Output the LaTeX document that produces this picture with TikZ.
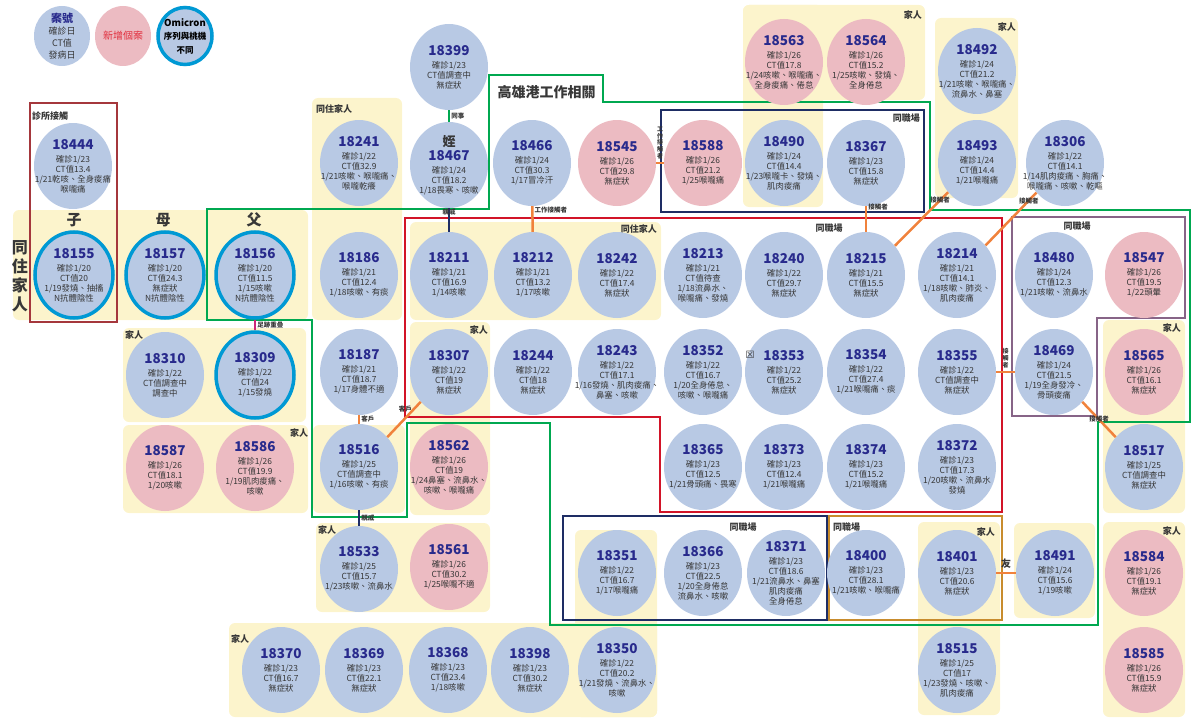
\documentclass[tikz,border=0pt]{standalone}
\usepackage{fontspec}
\setmainfont{Noto Sans CJK TC}
\newfontfamily\symfont{DejaVu Sans}
\usetikzlibrary{shapes.geometric}
\definecolor{caseblue}{RGB}{184,201,228}
\definecolor{casepink}{RGB}{236,187,194}
\definecolor{idblue}{RGB}{40,42,140}
\definecolor{txtgray}{RGB}{55,55,55}
\definecolor{omicyan}{RGB}{0,153,212}
\definecolor{bandyellow}{RGB}{252,244,204}
\definecolor{grpgreen}{RGB}{0,168,80}
\definecolor{grpred}{RGB}{210,20,40}
\definecolor{grpbrown}{RGB}{165,55,60}
\definecolor{grpnavy}{RGB}{30,45,100}
\definecolor{grpgold}{RGB}{200,140,45}
\definecolor{grppurple}{RGB}{135,100,135}
\definecolor{lnkorange}{RGB}{240,130,60}
\definecolor{lnkpink}{RGB}{205,40,120}
\definecolor{newred}{RGB}{225,45,60}
\newcommand{\cid}[1]{{\fontsize{13.5}{14}\selectfont\bfseries\color{idblue}#1}\\[3pt]}

\begin{document}
\begin{tikzpicture}[x=1pt, y=-1pt,
  case/.style={ellipse, fill=caseblue, minimum width=78pt, minimum height=86pt, inner xsep=-24pt, inner ysep=-16pt, align=center, text=txtgray, font=\fontsize{8.4}{10}\selectfont},
  newcase/.style={case, fill=casepink},
  omicase/.style={case, draw=omicyan, line width=3.5pt},
  band/.style={fill=bandyellow, rounded corners=6pt},
  grp/.style={font=\fontsize{9}{10}\selectfont\bfseries, text=txtgray, inner sep=1pt},
  lnk/.style={line width=2.5pt, lnkorange},
  lnklbl/.style={font=\fontsize{6.5}{7}\selectfont\bfseries, text=txtgray, inner sep=1pt},
  vlbl/.style={lnklbl, align=center, font=\fontsize{6}{6.6}\selectfont\bfseries}]
  \useasboundingbox (0,0) rectangle (1192,725);

  % yellow bands
  \fill[band] (13,210) rectangle (308,320);
  \fill[band] (312,98) rectangle (402,320);
  \fill[band] (410,222) rectangle (661,320);
  \fill[band] (123,328) rectangle (306,422);
  \fill[band] (123,425) rectangle (308,513);
  \fill[band] (313,425) rectangle (405,513);
  \fill[band] (410,322) rectangle (490,515);
  \fill[band] (316,523) rectangle (490,612);
  \fill[band] (229,623) rectangle (657,717);
  \fill[band] (575,530) rectangle (657,717);
  \fill[band] (743,5) rectangle (925,100);
  \fill[band] (743,5) rectangle (823,207);
  \fill[band] (935,18) rectangle (1018,198);
  \fill[band] (1103,320) rectangle (1185,513);
  \fill[band] (918,522) rectangle (1000,715);
  \fill[band] (1014,523) rectangle (1095,618);
  \fill[band] (1103,522) rectangle (1185,717);

  % group frames
  \draw[line width=2.5pt, grpgreen] (207,209) -- (489,209) -- (489,75) -- (603,75) -- (603,102) -- (930,102) -- (930,210) -- (1190,210) -- (1190,422) -- (1098,422) -- (1098,625) -- (550,625) -- (550,423) -- (407,423) -- (407,517) -- (312,517) -- (312,320) -- (207,320) -- cycle;
  \draw[line width=2.5pt, grpred] (405,218) -- (1002,218) -- (1002,512) -- (660,512) -- (660,417) -- (405,417) -- cycle;
  \draw[line width=2.2pt, grpbrown] (30,103) rectangle (117,322);
  \draw[line width=2.2pt, grpnavy] (661,110) rectangle (924,212);
  \draw[line width=2.2pt, grpnavy] (563,516) rectangle (827,620);
  \draw[line width=2.2pt, grpgold] (829,516) rectangle (1002,620);
  \draw[line width=1.5pt, grppurple] (1012,217) -- (1185,217) -- (1185,318) -- (1097,318) -- (1097,416) -- (1012,416) -- cycle;

  % group labels
  \node[grp, anchor=west] (lblclinic) at (31,116) {診所接觸};
  \node[grp, anchor=west] (lblhome1) at (315,109) {同住家人};
  \node[grp, anchor=east] (lblhome2) at (658,229) {同住家人};
  \node[grp, anchor=west] (lblfam1) at (124,335) {家人};
  \node[grp] (lblfam2) at (299,433) {家人};
  \node[grp, anchor=east] (lblfam3) at (489,330) {家人};
  \node[grp, anchor=west] (lblfam4) at (317,530) {家人};
  \node[grp, anchor=west] (lblfam5) at (230,639) {家人};
  \node[grp, anchor=east] (lblfam6) at (923,15) {家人};
  \node[grp, anchor=east] (lblfam7) at (1017,27) {家人};
  \node[grp, anchor=east] (lblfam8) at (1182,328) {家人};
  \node[grp, anchor=east] (lblfam9) at (996,532) {家人};
  \node[grp, anchor=east] (lblfam10) at (1182,531) {家人};
  \node[grp] (lblwork1) at (829,228) {同職場};
  \node[grp] (lblwork2) at (1077,226) {同職場};
  \node[grp, anchor=east] (lblwork3) at (921,118) {同職場};
  \node[grp] (lblwork4) at (743,527) {同職場};
  \node[grp, anchor=west] (lblwork5) at (832,527) {同職場};
  \node[anchor=west, font=\fontsize{14}{16}\selectfont\bfseries, text=txtgray] (lblport) at (494,92) {高雄港工作相關};
  \node[align=center, font=\fontsize{16}{19}\selectfont\bfseries, text=txtgray] (lbllive) at (20,276) {同\\住\\家\\人};
  \node[font=\fontsize{15}{16}\selectfont\bfseries, text=txtgray] (lblson) at (74,220) {子};
  \node[font=\fontsize{15}{16}\selectfont\bfseries, text=txtgray] (lblmom) at (163,220) {母};
  \node[font=\fontsize{15}{16}\selectfont\bfseries, text=txtgray] (lbldad) at (254,220) {父};

  % legend
  \node[case, minimum width=56pt, minimum height=60pt, inner xsep=-18pt, inner ysep=-18pt, font=\fontsize{9}{12}\selectfont] (legcase) at (62,36) {{\fontsize{11}{12}\selectfont\bfseries\color{idblue}案號}\\確診日\\CT值\\發病日};
  \node[newcase, minimum width=56pt, minimum height=60pt, inner xsep=-18pt, inner ysep=-18pt, font=\fontsize{10}{12}\selectfont, text=newred] (legnew) at (123,36) {新增個案};
  \node[omicase, minimum width=54pt, minimum height=57pt, inner xsep=-18pt, inner ysep=-18pt, font=\fontsize{8.5}{13.5}\selectfont\bfseries, text=black] (legomi) at (185,36) {{\fontsize{9.5}{13.5}\selectfont Omicron}\\序列與桃機\\不同};

  % cases
  \node[case] (n18444) at (73,166) {\cid{18444}確診1/23\\CT值13.4\\1/21乾咳、全身痠痛\\喉嚨痛};
  \node[omicase] (n18155) at (74,275) {\cid{18155}確診1/20\\CT值20\\1/19發燒、抽搐\\N抗體陰性};
  \node[omicase] (n18157) at (165,275) {\cid{18157}確診1/20\\CT值24.3\\無症狀\\N抗體陰性};
  \node[omicase] (n18156) at (255,275) {\cid{18156}確診1/20\\CT值11.5\\1/15咳嗽\\N抗體陰性};
  \node[case] (n18310) at (165,375) {\cid{18310}確診1/22\\CT值調查中\\調查中};
  \node[omicase] (n18309) at (255,375) {\cid{18309}確診1/22\\CT值24\\1/15發燒};
  \node[newcase] (n18587) at (165,468) {\cid{18587}確診1/26\\CT值18.1\\1/20咳嗽};
  \node[newcase] (n18586) at (255,468) {\cid{18586}確診1/26\\CT值19.9\\1/19肌肉痠痛、\\咳嗽};

  \node[case] (n18399) at (449,67) {\cid{18399}確診1/23\\CT值調查中\\無症狀};
  \node[case] (n18241) at (359,163) {\cid{18241}確診1/22\\CT值32.9\\1/21咳嗽、喉嚨痛、\\喉嚨乾癢};
  \node[case] (n18467) at (449,165) {{\fontsize{13}{13}\selectfont\bfseries 姪}\\[2pt]\cid{18467}確診1/24\\CT值18.2\\1/18畏寒、咳嗽};
  \node[case] (n18466) at (532,163) {\cid{18466}確診1/24\\CT值30.3\\1/17冒冷汗};
  \node[newcase] (n18545) at (617,163) {\cid{18545}確診1/26\\CT值29.8\\無症狀};
  \node[newcase] (n18588) at (703,163) {\cid{18588}確診1/26\\CT值21.2\\1/25喉嚨痛};
  \node[case] (n18490) at (784,163) {\cid{18490}確診1/24\\CT值14.4\\1/23喉嚨卡、發燒、\\肌肉痠痛};
  \node[case] (n18367) at (866,163) {\cid{18367}確診1/23\\CT值15.8\\無症狀};
  \node[newcase] (n18563) at (784,62) {\cid{18563}確診1/26\\CT值17.8\\1/24咳嗽、喉嚨痛、\\全身痠痛、倦怠};
  \node[newcase] (n18564) at (866,62) {\cid{18564}確診1/26\\CT值15.2\\1/25咳嗽、發燒、\\全身倦怠};
  \node[case] (n18492) at (977,71) {\cid{18492}確診1/24\\CT值21.2\\1/21咳嗽、喉嚨痛、\\流鼻水、鼻塞};
  \node[case] (n18493) at (977,163) {\cid{18493}確診1/24\\CT值14.4\\1/21喉嚨痛};
  \node[case] (n18306) at (1065,163) {\cid{18306}確診1/22\\CT值14.1\\1/14肌肉痠痛、胸痛、\\喉嚨痛、咳嗽、乾嘔};

  \node[case] (n18186) at (359,275) {\cid{18186}確診1/21\\CT值12.4\\1/18咳嗽、有痰};
  \node[case] (n18211) at (449,275) {\cid{18211}確診1/21\\CT值16.9\\1/14咳嗽};
  \node[case] (n18212) at (533,275) {\cid{18212}確診1/21\\CT值13.2\\1/17咳嗽};
  \node[case] (n18242) at (617,275) {\cid{18242}確診1/22\\CT值17.4\\無症狀};
  \node[case] (n18213) at (703,275) {\cid{18213}確診1/21\\CT值待查\\1/18流鼻水、\\喉嚨痛、發燒};
  \node[case] (n18240) at (784,275) {\cid{18240}確診1/22\\CT值29.7\\無症狀};
  \node[case] (n18215) at (866,275) {\cid{18215}確診1/21\\CT值15.5\\無症狀};
  \node[case] (n18214) at (957,275) {\cid{18214}確診1/21\\CT值14.1\\1/18咳嗽、肺炎、\\肌肉痠痛};
  \node[case] (n18480) at (1054,275) {\cid{18480}確診1/24\\CT值12.3\\1/21咳嗽、流鼻水};
  \node[newcase] (n18547) at (1144,275) {\cid{18547}確診1/26\\CT值19.5\\1/22頭暈};

  \node[case] (n18187) at (359,372) {\cid{18187}確診1/21\\CT值18.7\\1/17身體不適};
  \node[case] (n18307) at (449,372) {\cid{18307}確診1/22\\CT值19\\無症狀};
  \node[case] (n18244) at (533,372) {\cid{18244}確診1/22\\CT值18\\無症狀};
  \node[case] (n18243) at (617,372) {\cid{18243}確診1/22\\CT值17.1\\1/16發燒、肌肉痠痛、\\鼻塞、咳嗽};
  \node[case] (n18352) at (703,372) {\cid{18352}確診1/22\\CT值16.7\\1/20全身倦怠、\\咳嗽、喉嚨痛};
  \node[case] (n18353) at (784,372) {\cid{18353}確診1/22\\CT值25.2\\無症狀};
  \node[case] (n18354) at (866,372) {\cid{18354}確診1/22\\CT值27.4\\1/21喉嚨痛、痰};
  \node[case] (n18355) at (957,372) {\cid{18355}確診1/22\\CT值調查中\\無症狀};
  \node[case] (n18469) at (1054,372) {\cid{18469}確診1/24\\CT值21.5\\1/19全身發冷、\\骨頭痠痛};
  \node[newcase] (n18565) at (1144,372) {\cid{18565}確診1/26\\CT值16.1\\無症狀};
  \node[font=\fontsize{10}{10}\selectfont, text=txtgray] (boxmark) at (750,355) {\symfont ☒};

  \node[case] (n18516) at (359,467) {\cid{18516}確診1/25\\CT值調查中\\1/16咳嗽、有痰};
  \node[newcase] (n18562) at (449,467) {\cid{18562}確診1/26\\CT值19\\1/24鼻塞、流鼻水、\\咳嗽、喉嚨痛};
  \node[case] (n18365) at (703,467) {\cid{18365}確診1/23\\CT值12.5\\1/21骨頭痛、畏寒};
  \node[case] (n18373) at (784,467) {\cid{18373}確診1/23\\CT值12.4\\1/21喉嚨痛};
  \node[case] (n18374) at (866,467) {\cid{18374}確診1/23\\CT值15.2\\1/21喉嚨痛};
  \node[case] (n18372) at (957,467) {\cid{18372}確診1/23\\CT值17.3\\1/20咳嗽、流鼻水\\發燒};
  \node[case] (n18517) at (1144,467) {\cid{18517}確診1/25\\CT值調查中\\無症狀};

  \node[case] (n18533) at (359,569) {\cid{18533}確診1/25\\CT值15.7\\1/23咳嗽、流鼻水};
  \node[newcase] (n18561) at (449,567) {\cid{18561}確診1/26\\CT值30.2\\1/25喉嚨不適};
  \node[case] (n18351) at (617,573) {\cid{18351}確診1/22\\CT值16.7\\1/17喉嚨痛};
  \node[case] (n18366) at (703,573) {\cid{18366}確診1/23\\CT值22.5\\1/20全身倦怠\\流鼻水、咳嗽};
  \node[case] (n18371) at (786,573) {\cid{18371}確診1/23\\CT值18.6\\1/21流鼻水、鼻塞\\肌肉痠痛\\全身倦怠};
  \node[case] (n18400) at (866,573) {\cid{18400}確診1/23\\CT值28.1\\1/21咳嗽、喉嚨痛};
  \node[case] (n18401) at (957,573) {\cid{18401}確診1/23\\CT值20.6\\無症狀};
  \node[case] (n18491) at (1055,573) {\cid{18491}確診1/24\\CT值15.6\\1/19咳嗽};
  \node[newcase] (n18584) at (1144,573) {\cid{18584}確診1/26\\CT值19.1\\無症狀};

  \node[case] (n18370) at (281,670) {\cid{18370}確診1/23\\CT值16.7\\無症狀};
  \node[case] (n18369) at (364,670) {\cid{18369}確診1/23\\CT值22.1\\無症狀};
  \node[case] (n18368) at (448,670) {\cid{18368}確診1/23\\CT值23.4\\1/18咳嗽};
  \node[case] (n18398) at (530,670) {\cid{18398}確診1/23\\CT值30.2\\無症狀};
  \node[case] (n18350) at (617,670) {\cid{18350}確診1/22\\CT值20.2\\1/21發燒、流鼻水、\\咳嗽};
  \node[case] (n18515) at (957,670) {\cid{18515}確診1/25\\CT值17\\1/23發燒、咳嗽、\\肌肉痠痛};
  \node[newcase] (n18585) at (1144,670) {\cid{18585}確診1/26\\CT值15.9\\無症狀};

  % links
  \draw[lnk, grpgreen] (n18399) -- (n18467) node[lnklbl, right, midway] {同事};
  \draw[lnk, grpnavy] (n18467) -- (n18211) node[lnklbl, pos=0.15] {親戚};
  \draw[lnk] (n18466) -- (n18212) node[lnklbl, right, pos=0.15] {工作接觸者};
  \draw[lnk] (n18545) -- (n18588) node[vlbl, midway, above=2pt] {工\\作\\接\\觸\\者};
  \draw[lnk] (n18367) -- (n18215) node[lnklbl, right, pos=0.05] {接觸者};
  \draw[lnk] (n18493) -- (n18215) node[lnklbl, pos=0.15] {接觸者};
  \draw[lnk] (n18306) -- (n18214) node[lnklbl, pos=0.15] {接觸者};
  \draw[lnk] (n18355) -- (n18469) node[vlbl, midway, above=2pt] {接\\觸\\者};
  \draw[lnk] (n18469) -- (n18517) node[lnklbl, midway] {接觸者};
  \draw[lnk, lnkpink] (n18156) -- (n18309) node[lnklbl, right, midway] {足跡重疊};
  \draw[lnk] (n18187) -- (n18516) node[lnklbl, right, midway] {客戶};
  \draw[lnk] (n18307) -- (n18516) node[lnklbl, anchor=east, pos=0.2] {客戶};
  \draw[lnk, grpnavy] (n18516) -- (n18533) node[lnklbl, right, midway] {親戚};
  \draw[lnk] (n18401) -- (n18491) node[lnklbl, midway, above=2pt, font=\fontsize{10}{10}\selectfont\bfseries] {友};
\end{tikzpicture}
\end{document}
